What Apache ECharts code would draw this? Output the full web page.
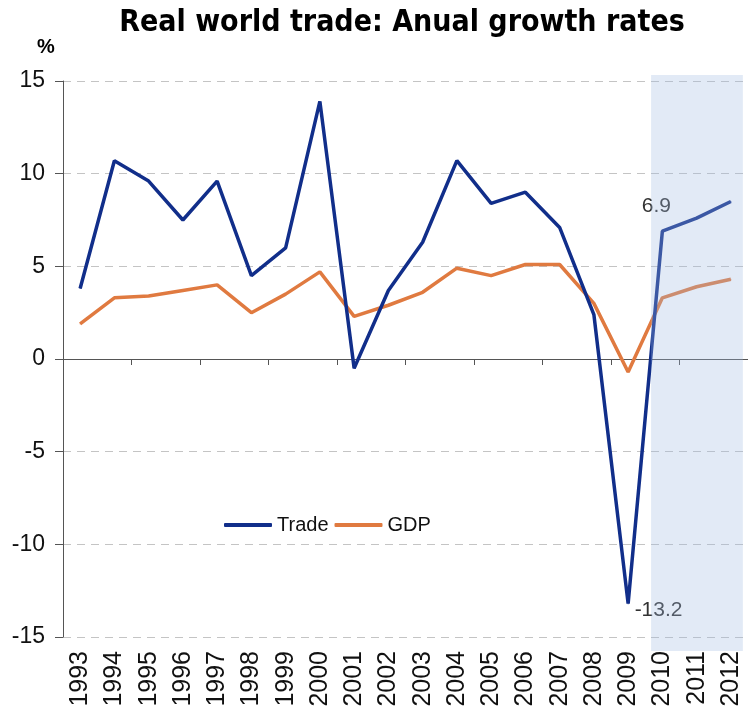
<!DOCTYPE html>
<html>
<head>
<meta charset="utf-8">
<script src="https://cdn.jsdelivr.net/npm/echarts@6/dist/echarts.min.js"></script>
<style>html,body{margin:0;padding:0;background:#fff;}#c{width:748px;height:718px;}</style>
</head>
<body>
<div id="c"></div>
<script>
const years = ['1993','1994','1995','1996','1997','1998','1999','2000','2001','2002','2003','2004','2005','2006','2007','2008','2009','2010','2011','2012'];
const trade = [3.8,10.7,9.6,7.5,9.6,4.5,6.0,13.9,-0.5,3.7,6.3,10.7,8.4,9.0,7.1,2.4,-13.2,6.9,7.6,8.5];
const gdp = [1.9,3.3,3.4,3.7,4.0,2.5,3.5,4.7,2.3,2.9,3.6,4.9,4.5,5.1,5.1,3.0,-0.7,3.3,3.9,4.3];
const yTicks = {min:-15, max:15, interval:5};
// forecast shading span on a hidden 0..20 value axis (category i spans i..i+1)
const shadeX = [17.17, 19.85];

const FONT = "'Liberation Sans', Arial, sans-serif";
const NARROW = "'Liberation Sans Narrow', 'DejaVu Sans Condensed', 'Liberation Sans', sans-serif";

const tradeData = trade.map((v,i)=>{
  const y = years[i];
  if (y === '2010') return {value:v, label:{show:true, position:'top', offset:[-6,-9], formatter:'{c}', fontSize:21, color:'#333', fontFamily:FONT}};
  if (y === '2009') return {value:v, label:{show:true, position:'right', offset:[1,7], formatter:'{c}', fontSize:21, color:'#333', fontFamily:FONT}};
  return v;
});

const chart = echarts.init(document.getElementById('c'), null, {renderer:'canvas'});
chart.setOption({
  animation:false,
  backgroundColor:'#fff',
  title:[
    {text:'Real world trade: Anual growth rates', left:397, textAlign:'center', top:3,
     textStyle:{fontFamily:NARROW, fontWeight:'bold', fontSize:30, color:'#000'}},
    {text:'%', left:32, top:32, textStyle:{fontFamily:FONT, fontWeight:'bold', fontSize:20, color:'#000'}}
  ],
  grid:[
    {left:63, width:685, top:81, height:556, containLabel:false},
    {left:63, width:685, top:75, height:576, containLabel:false}
  ],
  legend:{
    data:['Trade','GDP'], left:219, top:510, icon:'roundRect', itemWidth:48, itemHeight:4, itemGap:6,
    textStyle:{fontFamily:FONT, fontSize:20, color:'#111'}
  },
  xAxis:[
    {type:'category', data:years, boundaryGap:true,
     axisLine:{show:true, onZero:true, lineStyle:{color:'#555', width:1}},
     axisTick:{show:true, length:6, lineStyle:{color:'#555'}},
     axisLabel:{show:false}, splitLine:{show:false}},
    {type:'category', data:years, boundaryGap:true, position:'bottom',
     axisLine:{show:false, onZero:false}, axisTick:{show:false},
     axisLabel:{show:true, rotate:90, fontSize:25, color:'#111', fontFamily:FONT, margin:14},
     splitLine:{show:false}},
    {type:'value', gridIndex:1, min:0, max:20, show:false}
  ],
  yAxis:[
    {type:'value', min:yTicks.min, max:yTicks.max, interval:yTicks.interval,
    axisLine:{show:true, lineStyle:{color:'#555', width:1}},
    axisTick:{show:true, length:8, lineStyle:{color:'#555'}},
    axisLabel:{fontSize:23, color:'#111', fontFamily:FONT, margin:18},
    splitLine:{show:true, lineStyle:{color:'#c4c4c4', type:[8,6], width:1}}},
    {type:'value', gridIndex:1, min:0, max:1, show:false}
  ],
  series:[
    {name:'Trade', type:'line', xAxisIndex:0, yAxisIndex:0, data:tradeData, symbol:'circle', symbolSize:1, showSymbol:true,
     lineStyle:{color:'#112e8a', width:3.5}, itemStyle:{color:'#112e8a'}, z:3},
    {name:'GDP', type:'line', xAxisIndex:0, yAxisIndex:0, data:gdp, symbol:'circle', symbolSize:1, showSymbol:true,
     lineStyle:{color:'#e07a40', width:3.5}, itemStyle:{color:'#e07a40'}, z:2},
    {type:'line', xAxisIndex:2, yAxisIndex:1, data:[], z:10, silent:true,
     markArea:{silent:true, z:10, itemStyle:{color:'rgba(160,186,224,0.3)'},
       data:[[{xAxis:shadeX[0], yAxis:1},{xAxis:shadeX[1], yAxis:0}]]}}
  ]
});
</script>
</body>
</html>
